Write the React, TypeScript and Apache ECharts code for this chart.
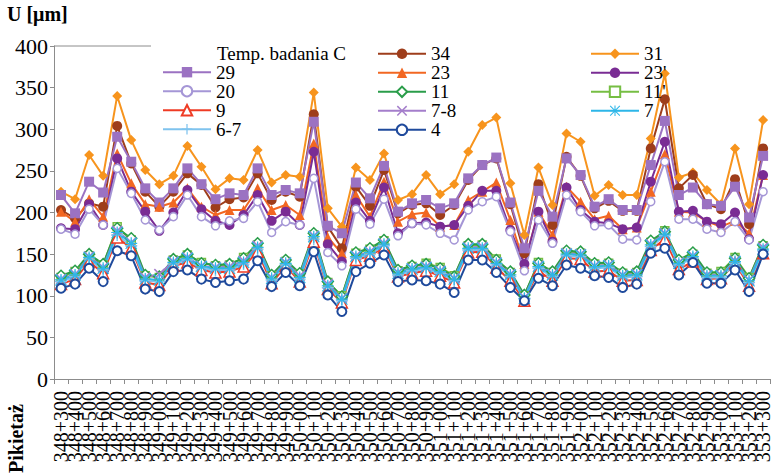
import React, { useEffect, useRef } from "react";
import * as echarts from "echarts";

const categories = [
  "348+300", "348+400", "348+500", "348+600", "348+700", "348+800", "348+900",
  "349+000", "349+100", "349+200", "349+300", "349+400", "349+500", "349+600", "349+700", "349+800", "349+900",
  "350+000", "350+100", "350+200", "350+300", "350+400", "350+500", "350+600", "350+700", "350+800", "350+900",
  "351+000", "351+100", "351+200", "351+300", "351+400", "351+500", "351+600", "351+700", "351+800", "351+900",
  "352+000", "352+100", "352+200", "352+300", "352+400", "352+500", "352+600", "352+700", "352+800", "352+900",
  "353+000", "353+100", "353+200", "353+300",
];

const yTicks = [0, 400, 50];

const s31 = [225,216,269,244,340,287,251,234,244,280,255,228,241,239,275,236,245,243,344,205,183,254,239,271,215,222,245,222,234,273,305,314,235,173,254,209,295,285,220,233,221,221,289,367,242,248,227,210,277,210,311];
const s34 = [203,193,211,207,304,259,225,207,225,247,233,206,216,218,247,215,225,219,318,183,157,231,208,251,199,209,211,197,209,239,257,265,210,151,234,185,267,244,205,214,202,202,277,336,229,245,210,204,240,186,277];
const s29 = [221,199,237,224,291,261,229,212,229,253,234,216,223,221,253,221,227,223,309,184,175,236,217,256,201,211,215,205,211,241,257,266,212,157,226,195,265,245,207,216,203,203,257,310,221,230,210,208,231,194,268];
const s23 = [201,189,216,195,271,235,210,207,212,229,207,197,203,203,229,203,209,197,283,170,151,221,195,237,189,198,200,183,185,215,225,236,191,138,201,173,231,213,192,196,180,182,225,270,201,200,189,183,190,175,245];
const s23p = [181,180,210,185,265,225,201,178,200,227,204,190,185,197,221,190,201,185,273,162,141,212,190,230,175,187,188,183,185,208,226,226,179,138,201,165,230,203,189,187,180,182,237,285,201,202,189,186,200,168,245];
const s20 = [180,174,204,185,253,223,191,179,195,221,195,184,190,193,213,176,189,185,241,152,136,204,186,216,172,187,185,175,167,203,213,219,177,130,191,163,221,201,184,185,168,167,213,261,192,192,180,176,189,167,225];
const s11 = [124,130,150,138,181,169,125,123,144,150,139,137,138,145,163,125,143,127,175,117,99,152,157,167,131,136,138,133,123,162,162,143,129,101,139,129,154,153,139,140,128,129,166,177,143,152,128,128,145,121,161];
const s11p = [122,129,148,137,183,167,124,122,143,149,140,136,137,146,161,124,141,126,173,116,100,151,156,166,130,135,139,134,124,160,161,144,128,100,140,128,152,151,138,139,127,128,164,178,141,150,127,129,146,122,160];
const s9 = [114,120,141,127,170,157,116,113,136,140,131,128,129,135,153,115,136,117,165,108,92,143,148,158,123,127,130,124,116,152,153,134,118,94,130,118,145,144,129,130,118,119,155,168,132,141,120,121,139,112,151];
const s78 = [120,126,147,134,178,164,122,126,141,146,136,134,135,142,160,122,140,124,172,114,97,148,153,163,128,133,135,130,121,158,159,140,126,98,136,126,151,150,136,137,125,126,162,175,140,148,125,125,142,119,158];
const s7 = [119,125,146,133,176,163,120,119,140,145,135,133,133,140,158,121,139,122,171,112,96,147,152,162,127,132,134,129,120,157,157,139,125,97,135,125,150,149,135,136,124,125,161,174,139,147,124,124,141,118,156];
const s67 = [117,123,144,131,173,160,118,117,138,143,133,131,131,138,156,119,137,120,168,110,94,145,150,160,125,130,132,127,118,155,155,137,123,96,133,123,148,147,133,134,122,123,159,172,137,145,122,122,139,116,154];
const s4 = [109,114,133,117,154,148,108,105,129,131,120,116,118,120,142,111,128,112,153,101,81,129,139,149,117,119,118,114,104,143,143,128,110,94,121,112,137,133,124,122,110,114,151,157,125,140,115,115,131,105,150];

const legendCol1 = ["29", "20", "9", "6-7"];
const legendCol2 = ["34", "23", "11", "7-8", "4"];
const legendCol3 = ["31", "23'", "11'", "7"];

const PLUS = "path://M4.4,0H5.6V4.4H10V5.6H5.6V10H4.4V5.6H0V4.4H4.4Z";
const CROSS = "path://M1,0L5,4L9,0L10,1L6,5L10,9L9,10L5,6L1,10L0,9L4,5L0,1Z";
const STAR = "path://M4.5,0H5.5V10H4.5Z M0,4.5H10V5.5H0Z M0.7,0L10,9.3L9.3,10L0,0.7Z M9.3,0L10,0.7L0.7,10L0,9.3Z";

const SERIF = "Liberation Serif";

type Def = { name: string; data: number[]; color: string; symbol: string; size: number; hollow?: boolean; bw?: number };

const defs: Def[] = [
  { name: "31", data: s31, color: "#F7941D", symbol: "diamond", size: 10 },
  { name: "34", data: s34, color: "#9E3D1B", symbol: "circle", size: 10 },
  { name: "29", data: s29, color: "#9B72C2", symbol: "rect", size: 10 },
  { name: "23", data: s23, color: "#F26722", symbol: "triangle", size: 10 },
  { name: "23'", data: s23p, color: "#7A2C94", symbol: "circle", size: 10 },
  { name: "20", data: s20, color: "#A596D6", symbol: "circle", size: 8, hollow: true, bw: 1.5 },
  { name: "11'", data: s11p, color: "#76BE43", symbol: "rect", size: 8, hollow: true, bw: 1.5 },
  { name: "11", data: s11, color: "#2A9D4A", symbol: "diamond", size: 11, hollow: true, bw: 1.5 },
  { name: "9", data: s9, color: "#EF3B24", symbol: "triangle", size: 11, hollow: true, bw: 1.5 },
  { name: "7-8", data: s78, color: "#A47ECB", symbol: CROSS, size: 11 },
  { name: "6-7", data: s67, color: "#7FC3EE", symbol: PLUS, size: 12 },
  { name: "7", data: s7, color: "#2DB6E8", symbol: STAR, size: 12 },
  { name: "4", data: s4, color: "#1F4A9C", symbol: "circle", size: 9, hollow: true, bw: 2 },
];

export default function App() {
  const ref = useRef<HTMLDivElement>(null);
  useEffect(() => {
    if (!ref.current) return;
    const chart = echarts.init(ref.current, undefined, { renderer: "svg" });
    const legendBase = {
      orient: "vertical" as const,
      padding: 0,
      itemGap: 0,
      itemWidth: 48,
      itemHeight: 13,
      selectedMode: false,
      textStyle: { fontFamily: SERIF, fontSize: 19, color: "#000", lineHeight: 18 },
    };
    chart.setOption({
      animation: false,
      backgroundColor: "#fff",
      grid: { left: 54, top: 46, width: 726, height: 333, containLabel: false },
      legend: [
        { ...legendBase, left: 162, top: 62.7, data: legendCol1 },
        { ...legendBase, left: 377, top: 44.3, data: legendCol2 },
        { ...legendBase, left: 590, top: 44.3, data: legendCol3 },
      ],
      graphic: [
        { type: "text", left: 7, top: 4, style: { text: "U [\u03bcm]", font: `bold 20px ${SERIF}`, fill: "#000" } },
        { type: "text", x: 217, y: 53.3, style: { text: "Temp. badania C", font: `19px ${SERIF}`, fill: "#000", textVerticalAlign: "middle", lineHeight: 16 } },
        {
          type: "text", x: 16, y: 473, rotation: Math.PI / 2,
          style: { text: "Pikieta\u017c", font: `bold 20px ${SERIF}`, fill: "#000", textAlign: "left", textVerticalAlign: "middle" },
        },
        { type: "line", shape: { x1: 54, y1: 46, x2: 151, y2: 46 }, style: { stroke: "#8c8c8c", lineWidth: 1 } },
      ],
      xAxis: {
        type: "category",
        data: categories,
        boundaryGap: true,
        axisLine: { lineStyle: { color: "#8c8c8c", width: 1 } },
        axisTick: { show: true, length: 5, interval: 0, lineStyle: { color: "#8c8c8c" } },
        axisLabel: { rotate: 90, interval: 0, margin: 12, fontFamily: SERIF, fontSize: 20, color: "#000", hideOverlap: false },
        splitLine: { show: false },
      },
      yAxis: {
        type: "value",
        min: yTicks[0],
        max: yTicks[1],
        interval: yTicks[2],
        axisLine: { show: true, lineStyle: { color: "#8c8c8c", width: 1 } },
        axisTick: { show: true, length: 4, lineStyle: { color: "#8c8c8c" } },
        axisLabel: { margin: 6, fontFamily: SERIF, fontSize: 22, color: "#000" },
        splitLine: { show: false },
      },
      series: defs.map((d) => ({
        name: d.name,
        type: "line",
        data: d.data,
        symbol: d.symbol,
        symbolSize: d.size,
        showAllSymbol: true,
        lineStyle: { color: d.color, width: 2 },
        itemStyle: d.hollow
          ? { color: "#fff", borderColor: d.color, borderWidth: d.bw }
          : { color: d.color, borderWidth: 0 },
        emphasis: { disabled: true },
      })),
    });
    return () => chart.dispose();
  }, []);
  return <div ref={ref} style={{ position: "fixed", left: 0, top: 0, width: 773, height: 475 }} />;
}
